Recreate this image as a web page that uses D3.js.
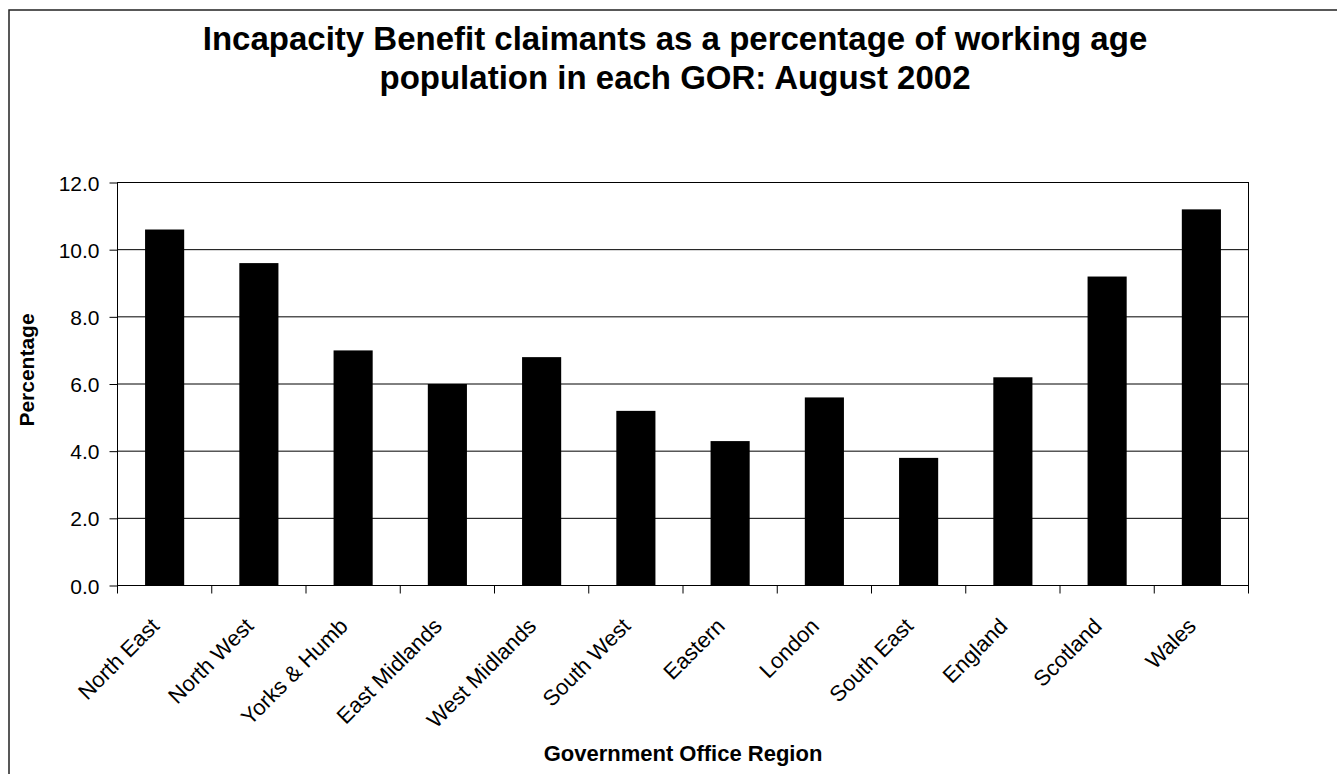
<!DOCTYPE html>
<html lang="en">
<head>
<meta charset="utf-8">
<title>Incapacity Benefit claimants</title>
<script src="https://cdn.jsdelivr.net/npm/d3@7"></script>
<style>
  body { margin:0; background:#fff; }
  svg text { font-family: "Liberation Sans", Arial, sans-serif; fill:#000; }
</style>
</head>
<body>
<div id="chart"></div>
<script>
// data
var regions = ["North East","North West","Yorks & Humb","East Midlands","West Midlands","South West","Eastern","London","South East","England","Scotland","Wales"]
var percentages = [10.6, 9.6, 7.0, 6.0, 6.8, 5.2, 4.3, 5.6, 3.8, 6.2, 9.2, 11.2]
var yTicks = [0, 2, 4, 6, 8, 10, 12]
var titleLines = ["Incapacity Benefit claimants as a percentage of working age", "population in each GOR: August 2002"]

var width = 1337, height = 774
var margin = {left:117.5, top:182.5, right:1248.5, bottom:585.5}

var svg = d3.select("#chart").append("svg").attr("width",width).attr("height",height)

// outer frame (runs off the right and bottom of the picture)
svg.append("rect")
  .attr("x",9).attr("y",10).attr("width",width+20).attr("height",height+20)
  .attr("fill","none").attr("stroke","#222").attr("stroke-width",1.5)

var x = d3.scaleBand().domain(regions).range([margin.left, margin.right]).paddingInner(0.585).paddingOuter(0.2925)
var xOuter = d3.scaleBand().domain(regions).range([margin.left, margin.right])
var y = d3.scaleLinear().domain([0,12]).range([margin.bottom, margin.top])

// gridlines
svg.append("g").selectAll("line").data(yTicks).enter().append("line")
  .attr("x1",margin.left).attr("x2",margin.right)
  .attr("y1",function(d){ return y(d) }).attr("y2",function(d){ return y(d) })
  .attr("stroke","#000").attr("stroke-width",1)

// plot box
svg.append("rect")
  .attr("x",margin.left).attr("y",margin.top)
  .attr("width",margin.right-margin.left).attr("height",margin.bottom-margin.top)
  .attr("fill","none").attr("stroke","#000").attr("stroke-width",1)

// bars
svg.append("g").selectAll("rect").data(regions).enter().append("rect")
  .attr("x",function(d){ return x(d) })
  .attr("width",x.bandwidth())
  .attr("y",function(d,i){ return y(percentages[i]) })
  .attr("height",function(d,i){ return y(0)-y(percentages[i]) })
  .attr("fill","#000")

// y axis
var yAxis = d3.axisLeft(y).tickValues(yTicks).tickSize(8).tickFormat(d3.format(".1f"))
var gy = svg.append("g").attr("transform","translate("+margin.left+",0)").call(yAxis)
gy.select(".domain").remove()
gy.selectAll(".tick line").attr("stroke","#000")
gy.selectAll(".tick text").attr("x",-18).attr("dy","0.36em").style("font-size","21px")

// x axis ticks at category boundaries
var bounds = regions.map(function(d){ return xOuter(d) }).concat([margin.right])
svg.append("g").selectAll("line").data(bounds).enter().append("line")
  .attr("x1",function(d){ return d }).attr("x2",function(d){ return d })
  .attr("y1",margin.bottom).attr("y2",margin.bottom+8)
  .attr("stroke","#000")

// x labels rotated
svg.append("g").selectAll("text").data(regions).enter().append("text")
  .attr("transform",function(d){
    var cx = xOuter(d) + xOuter.bandwidth()/2
    return "translate("+(cx-4)+","+(margin.bottom+42)+") rotate(-45)"
  })
  .attr("text-anchor","end")
  .style("font-size","22px")
  .text(function(d){ return d })

// title
svg.append("text").attr("x",675).attr("y",50).attr("text-anchor","middle")
  .style("font-size","33px").style("font-weight","bold")
  .selectAll("tspan").data(titleLines).enter().append("tspan")
  .attr("x",675).attr("dy",function(d,i){ return i==0 ? 0 : 39 })
  .text(function(d){ return d })

// axis titles
svg.append("text").attr("x",683).attr("y",761).attr("text-anchor","middle")
  .style("font-size","22px").style("font-weight","bold").text("Government Office Region")

svg.append("text").attr("transform","translate(34,370) rotate(-90)").attr("text-anchor","middle")
  .style("font-size","21px").style("font-weight","bold").text("Percentage")
</script>
</body>
</html>
